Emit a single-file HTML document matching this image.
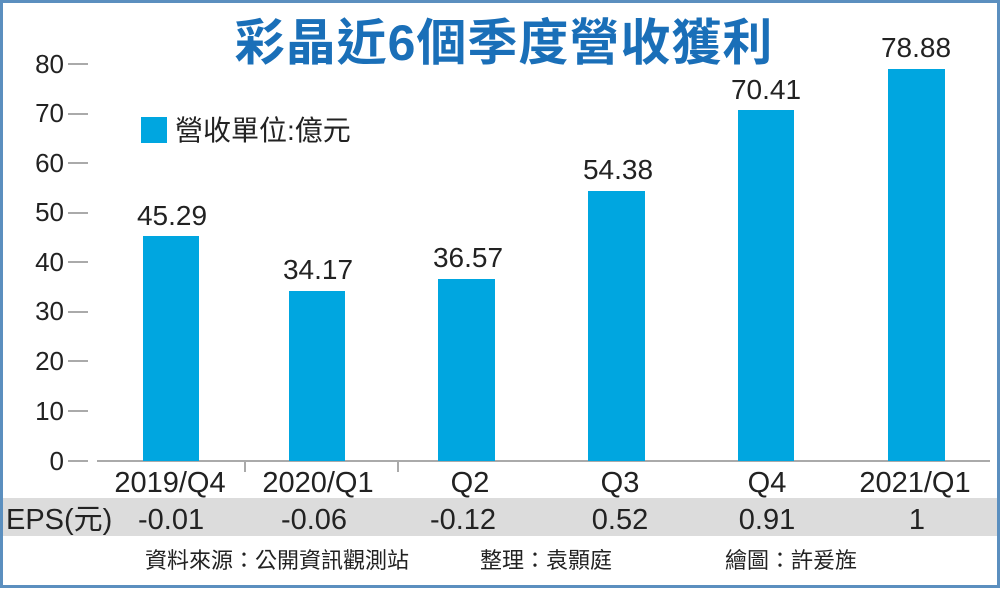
<!DOCTYPE html>
<html><head><meta charset="utf-8"><style>
body{margin:0;background:#fff;}
svg text{font-family:"Liberation Sans","Noto Sans CJK TC",sans-serif;}
</style></head><body>
<svg width="1000" height="588" viewBox="0 0 1000 588" xmlns="http://www.w3.org/2000/svg">
<rect x="1.5" y="1.5" width="997" height="585" fill="#fff" stroke="#5b8fbf" stroke-width="3"/>
<text x="504" y="60" text-anchor="middle" font-size="50" font-weight="bold" fill="#1a6fb8" letter-spacing="1">彩晶近6個季度營收獲利</text>
<g font-size="26" fill="#222" text-anchor="end">
<text x="64" y="73">80</text><text x="64" y="122">70</text><text x="64" y="172">60</text>
<text x="64" y="221">50</text><text x="64" y="271">40</text><text x="64" y="320">30</text>
<text x="64" y="370">20</text><text x="64" y="420">10</text><text x="64" y="470">0</text>
</g>
<g stroke="#aaa" stroke-width="2">
<line x1="68" y1="64" x2="88" y2="64"/><line x1="68" y1="114" x2="88" y2="114"/><line x1="68" y1="163" x2="88" y2="163"/>
<line x1="68" y1="213" x2="88" y2="213"/><line x1="68" y1="262" x2="88" y2="262"/><line x1="68" y1="312" x2="88" y2="312"/>
<line x1="68" y1="361" x2="88" y2="361"/><line x1="68" y1="411" x2="88" y2="411"/><line x1="68" y1="461" x2="88" y2="461"/>
<line x1="97" y1="461" x2="990" y2="461"/>
<line x1="245" y1="461" x2="245" y2="472"/><line x1="398" y1="461" x2="398" y2="472"/>
</g>
<rect x="141" y="117" width="26" height="26" fill="#00a6e0"/>
<text x="175" y="140" font-size="28" fill="#222">營收單位:億元</text>
<g fill="#00a6e0">
<rect x="143" y="236" width="56" height="225"/>
<rect x="289" y="291" width="56" height="170"/>
<rect x="438" y="279" width="57" height="182"/>
<rect x="588" y="191" width="57" height="270"/>
<rect x="738" y="110" width="56" height="351"/>
<rect x="888" y="69" width="57" height="392"/>
</g>
<g font-size="28" fill="#222" text-anchor="middle">
<text x="172" y="225">45.29</text><text x="318" y="279">34.17</text><text x="468" y="267">36.57</text>
<text x="618" y="179">54.38</text><text x="766" y="99">70.41</text><text x="916" y="57">78.88</text>
</g>
<g font-size="29" fill="#222" text-anchor="middle">
<text x="170" y="492">2019/Q4</text><text x="318" y="492">2020/Q1</text><text x="470" y="492">Q2</text>
<text x="620" y="492">Q3</text><text x="767" y="492">Q4</text><text x="915" y="492">2021/Q1</text>
</g>
<rect x="3" y="498" width="994" height="38" fill="#dcdcdc"/>
<g font-size="29" fill="#222">
<text x="6" y="529">EPS(元)</text>
<text x="138" y="529">-0.01</text>
</g>
<g font-size="29" fill="#222" text-anchor="middle">
<text x="314" y="529">-0.06</text><text x="463" y="529">-0.12</text><text x="620" y="529">0.52</text>
<text x="767" y="529">0.91</text><text x="917" y="529">1</text>
</g>
<g font-size="22" fill="#222">
<text x="145" y="568">資料來源：公開資訊觀測站</text>
<text x="480" y="568">整理：袁顥庭</text>
<text x="725" y="568">繪圖：許爰旌</text>
</g>
</svg>
</body></html>
